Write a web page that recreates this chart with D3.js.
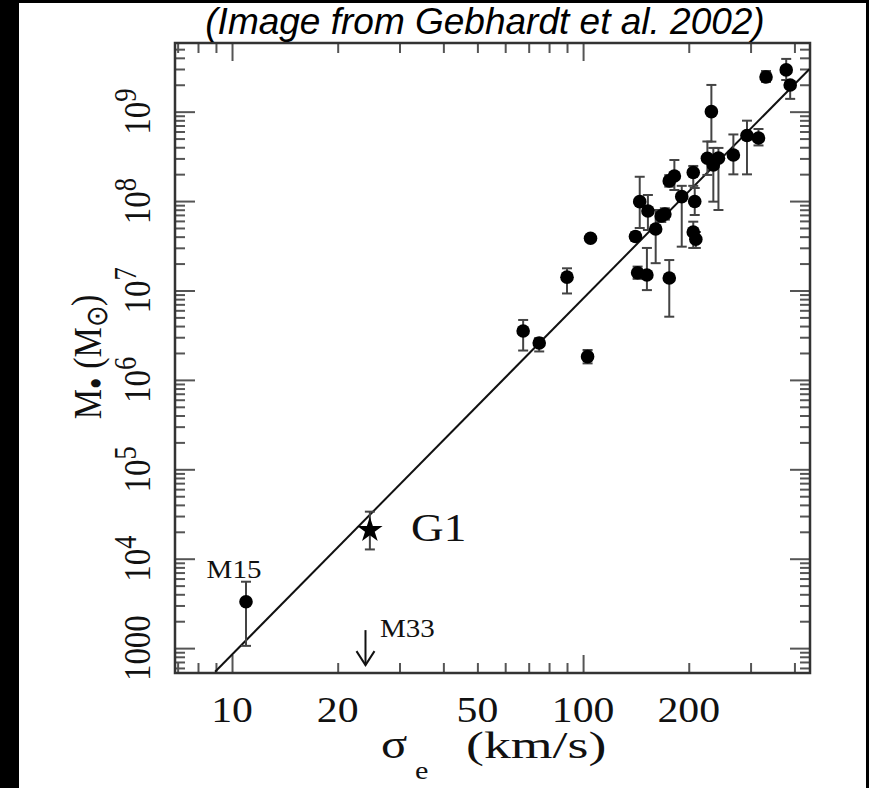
<!DOCTYPE html>
<html>
<head>
<meta charset="utf-8">
<script src="https://cdn.jsdelivr.net/npm/d3@7"></script>
<style>
body { margin: 0; background: #000; }
svg { display: block; }
.tick line { stroke: #555; stroke-width: 2; }
.domain { display: none; }
</style>
</head>
<body>
<div id="chart"></div>
<script>
// velocity dispersion (km/s) and black hole mass (solar masses) with error range
var sigma = [332, 379, 389, 232, 293, 316, 268, 226, 235, 243, 182, 176, 206, 191, 208, 206, 209.5,
    145, 153, 161, 167, 171, 141, 105, 143, 152, 176, 90, 67.5, 75, 103];
var mass = [2.44e9, 2.93e9, 1.99e9, 1.0e9, 5.42e8, 5.08e8, 3.28e8, 3.01e8, 2.53e8, 3.02e8, 1.91e8, 1.68e8,
    2.09e8, 1.12e8, 9.9e7, 4.51e7, 3.74e7, 9.85e7, 7.75e7, 4.87e7, 6.81e7, 7.17e7, 4.02e7, 3.84e7,
    1.58e7, 1.49e7, 1.38e7, 1.41e7, 3.52e6, 2.59e6, 1.82e6];
var massLow = [2.15e9, 2.26e9, 1.39e9, 4.62e8, 1.99e8, 4.19e8, 1.99e8, 1.96e8, 9.85e7, 7.95e7, 1.33e8, 1.45e8,
    1.48e8, 3.09e7, 6.99e7, 2.99e7, 2.99e7, 5.0e7, 4.75e7, 2.02e7, 5.84e7, 6.2e7, 3.6e7, 3.84e7,
    1.35e7, 1.01e7, 5.09e6, 9.26e6, 2.13e6, 2.08e6, 1.53e6];
var massHigh = [2.85e9, 3.89e9, 2.15e9, 1.99e9, 7.93e8, 6.40e8, 5.56e8, 4.64e8, 3.93e8, 3.93e8, 2.88e8, 1.95e8,
    2.47e8, 1.48e8, 1.40e8, 5.88e7, 4.51e7, 1.87e8, 1.17e8, 7.95e7, 7.9e7, 8.3e7, 4.5e7, 3.84e7,
    1.85e7, 2.99e7, 2.19e7, 1.77e7, 4.68e6, 2.94e6, 2.16e6];

// labelled low mass objects
var specialNames = ["M15", "G1"];
var specialSigma = [10.96, 24.7];
var specialMass = [3.30e3, 2.09e4];
var specialLow = [1.06e3, 1.27e4];
var specialHigh = [5.53e3, 3.36e4];

// M33 upper limit
var m33Sigma = 24.0;
var m33Limit = 1590;

// fitted relation, end points
var fitSigma = [8.95, 441];
var fitMass = [545, 2.98e9];

var xTickLabels = [10, 20, 50, 100, 200];
var yTickLabels = [1e3, 1e4, 1e5, 1e6, 1e7, 1e8, 1e9];

var svgWidth = 869;
var svgHeight = 788;
var plot = {left: 175, right: 810, top: 43, bottom: 673};
var serif = "'Liberation Serif', 'Times New Roman', serif";
var stretch = 1.16;

var svg = d3.select("#chart")
    .append("svg")
    .attr("width", svgWidth)
    .attr("height", svgHeight);

svg.append("rect")
    .attr("x", 19).attr("y", 3)
    .attr("width", 847).attr("height", 785)
    .attr("fill", "#fff");

var xScale = d3.scaleLog().domain([6.88, 443]).range([plot.left, plot.right]);
var yScale = d3.scaleLog().domain([527, 5.86e9]).range([plot.bottom, plot.top]);

var isMajor = v => Math.abs(Math.log10(v) - Math.round(Math.log10(v))) < 1e-6;

function addAxis(axisFn, scale, values, size, shift) {
    svg.append("g")
        .attr("transform", shift)
        .call(axisFn(scale).tickValues(values).tickSize(size).tickSizeOuter(0).tickFormat(""));
}

// ticks on all four sides, pointing in
var xt = xScale.ticks();
var yt = yScale.ticks();
addAxis(d3.axisBottom, xScale, xt.filter(v => !isMajor(v)), -10, `translate(0, ${plot.bottom})`);
addAxis(d3.axisBottom, xScale, xt.filter(isMajor), -18, `translate(0, ${plot.bottom})`);
addAxis(d3.axisTop, xScale, xt.filter(v => !isMajor(v)), -10, `translate(0, ${plot.top})`);
addAxis(d3.axisTop, xScale, xt.filter(isMajor), -18, `translate(0, ${plot.top})`);
addAxis(d3.axisLeft, yScale, yt.filter(v => !isMajor(v)), -10, `translate(${plot.left}, 0)`);
addAxis(d3.axisLeft, yScale, yt.filter(isMajor), -20, `translate(${plot.left}, 0)`);
addAxis(d3.axisRight, yScale, yt.filter(v => !isMajor(v)), -10, `translate(${plot.right}, 0)`);
addAxis(d3.axisRight, yScale, yt.filter(isMajor), -20, `translate(${plot.right}, 0)`);

svg.append("rect")
    .attr("x", plot.left).attr("y", plot.top)
    .attr("width", plot.right - plot.left).attr("height", plot.bottom - plot.top)
    .attr("fill", "none")
    .attr("stroke", "#333")
    .attr("stroke-width", 2.5);

// fit line
svg.append("line")
    .attr("x1", xScale(fitSigma[0])).attr("y1", yScale(fitMass[0]))
    .attr("x2", xScale(fitSigma[1])).attr("y2", yScale(fitMass[1]))
    .attr("stroke", "#111")
    .attr("stroke-width", 2);

// error bars
function errorBar(g, s, lo, hi) {
    if (lo === hi) return;
    var x = xScale(s);
    g.append("line").attr("x1", x).attr("x2", x).attr("y1", yScale(lo)).attr("y2", yScale(hi));
    [lo, hi].forEach(function (v) {
        g.append("line").attr("x1", x - 5).attr("x2", x + 5).attr("y1", yScale(v)).attr("y2", yScale(v));
    });
}

var bars = svg.append("g").attr("stroke", "#444").attr("stroke-width", 2);
sigma.forEach(function (s, i) {
    errorBar(bars, s, massLow[i], massHigh[i]);
});
specialSigma.forEach(function (s, i) {
    errorBar(bars, s, specialLow[i], specialHigh[i]);
});

svg.append("g").selectAll("circle")
    .data(sigma)
    .enter()
    .append("circle")
    .attr("cx", d => xScale(d))
    .attr("cy", (d, i) => yScale(mass[i]))
    .attr("r", 6.8)
    .attr("fill", "#000");

// M15 is a dot, G1 a star
svg.append("circle")
    .attr("cx", xScale(specialSigma[0]))
    .attr("cy", yScale(specialMass[0]))
    .attr("r", 6.8)
    .attr("fill", "#000");

svg.append("path")
    .attr("d", d3.symbol().type(d3.symbolStar).size(200)())
    .attr("transform", `translate(${xScale(specialSigma[1])}, ${yScale(specialMass[1])})`)
    .attr("fill", "#000");

// M33 arrow
var ax = xScale(m33Sigma);
var ay = yScale(m33Limit);
var arrow = svg.append("g").attr("stroke", "#111").attr("stroke-width", 2).attr("fill", "none");
arrow.append("line").attr("x1", ax).attr("x2", ax).attr("y1", ay).attr("y2", ay + 35);
arrow.append("path").attr("d", `M${ax - 9},${ay + 21} L${ax},${ay + 35} L${ax + 9},${ay + 21}`);

// text helper, the figure is a bit wider than tall
function addText(x, y, size, anchor, rotate) {
    var t = svg.append("text")
        .attr("transform", `translate(${x}, ${y}) scale(${stretch}, 1)` + (rotate ? " rotate(-90)" : ""))
        .attr("text-anchor", anchor)
        .attr("font-family", serif)
        .attr("font-size", size)
        .attr("fill", "#111");
    return t;
}

xTickLabels.forEach(function (v) {
    addText(xScale(v), 722, 36, "middle").text(v);
});

yTickLabels.forEach(function (v) {
    var t = addText(150, yScale(v), 33, "middle", true);
    if (v === 1000) {
        t.text("1000");
    } else {
        t.append("tspan").text("10");
        t.append("tspan").attr("dy", "-0.45em").attr("font-size", "0.8em").text(Math.round(Math.log10(v)));
    }
});

// object labels
addText(234, 578, 25, "middle").text(specialNames[0]);
addText(411, 541, 39, "start").text(specialNames[1]);
addText(380, 637, 25, "start").text("M33");

// axis titles
addText(381, 758, 42, "start").text("σ");
addText(415, 779, 26, "start").text("e");
addText(466, 758, 37, "start")
    .attr("textLength", 121)
    .attr("lengthAdjust", "spacingAndGlyphs")
    .text("(km/s)");

var yt2 = addText(101, 357, 34, "middle", true);
yt2.append("tspan").text("M");
yt2.append("tspan").attr("dy", "0.22em").attr("font-size", "1em").text("•");
yt2.append("tspan").attr("dy", "-0.22em").text(" (M");
yt2.append("tspan").attr("dy", "0.2em").attr("font-size", "0.75em").text("⊙");
yt2.append("tspan").attr("dy", "-0.2em").text(")");

// caption on top
svg.append("text")
    .attr("x", 485)
    .attr("y", 34)
    .attr("text-anchor", "middle")
    .attr("font-family", "'Liberation Sans', Arial, sans-serif")
    .attr("font-style", "italic")
    .attr("font-size", 37)
    .attr("fill", "#000")
    .text("(Image from Gebhardt et al. 2002)");
</script>
</body>
</html>
